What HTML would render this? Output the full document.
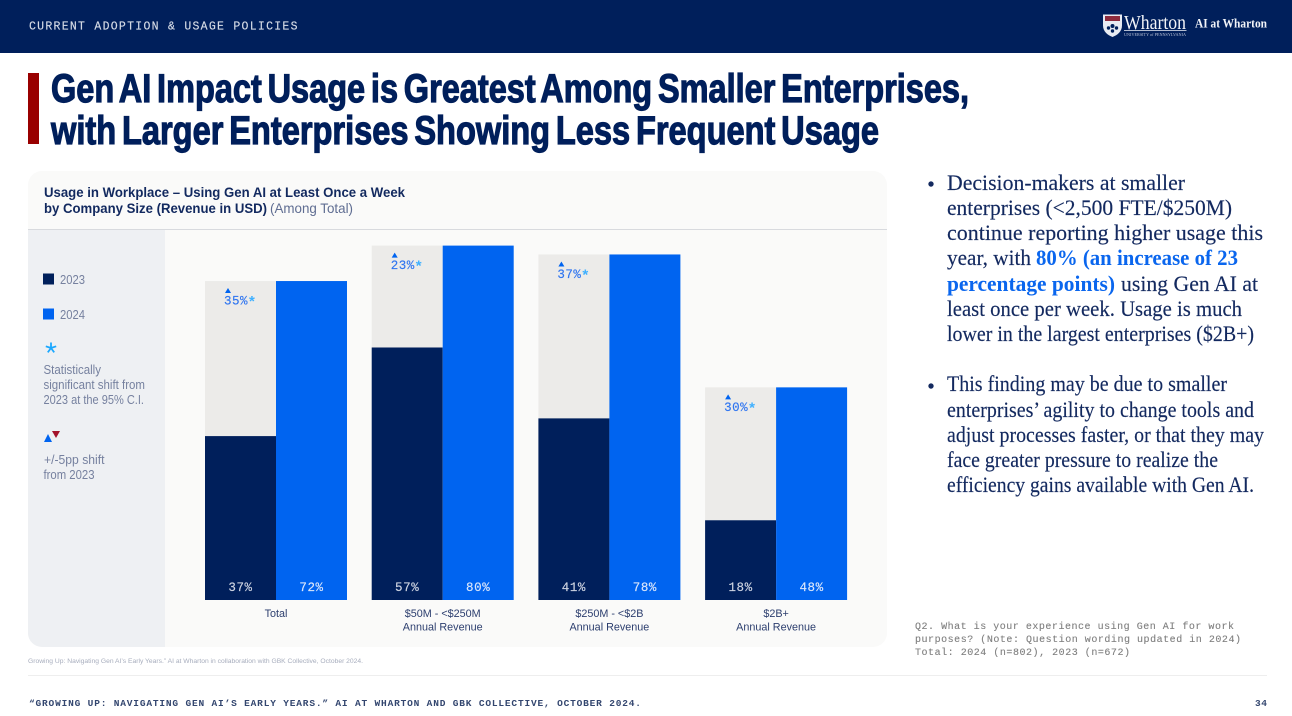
<!DOCTYPE html>
<html lang="en">
<head>
<meta charset="utf-8">
<title>Gen AI Impact Usage</title>
<style>
html,body{margin:0;padding:0;background:#fff;width:1292px;height:716px;overflow:hidden}
svg{display:block}
.mono{font-family:"Liberation Mono",monospace}
.sans{font-family:"Liberation Sans",sans-serif}
.serif{font-family:"Liberation Serif",serif}
.body-copy{font-size:22px;fill:#13295f}
.hl{fill:#0a66ee;font-weight:bold}
.legend-text{font-size:12.5px;fill:#76819f}
</style>
</head>
<body>
<svg id="slide" xmlns="http://www.w3.org/2000/svg" width="1292" height="716" viewBox="0 0 1292 716">
  <rect x="0" y="0" width="1292" height="53" fill="#001f5b"/>
  <text class="mono" x="29" y="29.500" font-size="11.500" fill="#d5dbe6" stroke="#d5dbe6" stroke-width="0.150" textLength="268.500">CURRENT ADOPTION &amp; USAGE POLICIES</text>

  <g>
    <path d="M1103 14.500h19v11c0 6-4.500 9.500-9.500 11.500c-5-2-9.500-5.500-9.500-11.500z" fill="#e8ebf2"/>
    <rect x="1105" y="16" width="15" height="5" fill="#8d2b3d"/>
    <circle cx="1112.500" cy="26" r="2" fill="#00205b"/><circle cx="1108.500" cy="28" r="1.700" fill="#00205b"/><circle cx="1116.500" cy="28" r="1.700" fill="#00205b"/><circle cx="1112.500" cy="31" r="1.700" fill="#00205b"/>
    <text class="serif" x="1124" y="29" font-size="20" fill="#f2f4f8" textLength="62" lengthAdjust="spacingAndGlyphs">Wharton</text>
    <rect x="1124" y="30" width="62.500" height="0.800" fill="#dfe4ee"/>
    <text class="serif" x="1124" y="36" font-size="4.500" fill="#b9c2d6" textLength="62" lengthAdjust="spacingAndGlyphs">UNIVERSITY of PENNSYLVANIA</text>
    <text class="serif" x="1195" y="27.500" font-size="12.500" font-weight="bold" fill="#f2f4f8" textLength="72" lengthAdjust="spacingAndGlyphs">AI at Wharton</text>
  </g>

  <rect x="28" y="73" width="11" height="71" fill="#990000"/>
  <g class="sans" font-size="40" font-weight="bold" fill="#001f5b" stroke="#001f5b" stroke-width="1.200" word-spacing="-4">
    <text x="51" y="102" textLength="918" lengthAdjust="spacingAndGlyphs">Gen AI Impact Usage is Greatest Among Smaller Enterprises,</text>
    <text x="51" y="144" textLength="828" lengthAdjust="spacingAndGlyphs">with Larger Enterprises Showing Less Frequent Usage</text>
  </g>

  <g>
    <rect x="28" y="171" width="859" height="476" rx="14" fill="#fafaf9"/>
    <path d="M28 230H165V647H42a14 14 0 0 1-14-14z" fill="#eef0f3"/>
    <rect x="28" y="229" width="859" height="1" fill="#d8dade"/>
    <g class="sans" font-size="14" font-weight="bold" fill="#12295f">
      <text x="44" y="197" textLength="361" lengthAdjust="spacingAndGlyphs">Usage in Workplace – Using Gen AI at Least Once a Week</text>
      <text x="44" y="213" textLength="223" lengthAdjust="spacingAndGlyphs">by Company Size (Revenue in USD)</text>
      <text x="270" y="213" font-weight="normal" fill="#5f6d92" textLength="83" lengthAdjust="spacingAndGlyphs">(Among Total)</text>
    </g>

    <g class="sans legend-text">
      <rect x="43" y="273.500" width="11" height="11" fill="#00205b"/>
      <text x="60" y="284" textLength="25" lengthAdjust="spacingAndGlyphs" class="legend-text">2023</text>
      <rect x="43" y="308.500" width="11" height="11" fill="#0064f0"/>
      <text x="60" y="319" textLength="25" lengthAdjust="spacingAndGlyphs" class="legend-text">2024</text>
      <path d="M51 348V342.500M51 348L56.200 346.300M51 348L54.200 352.400M51 348L47.800 352.400M51 348L45.800 346.300" stroke="#1ba8ff" stroke-width="1.800" fill="none"/>
      <text class="legend-text" x="43.500" y="374" textLength="57.500" lengthAdjust="spacingAndGlyphs">Statistically</text>
      <text class="legend-text" x="43.500" y="389" textLength="101.500" lengthAdjust="spacingAndGlyphs">significant shift from</text>
      <text class="legend-text" x="43.500" y="404" textLength="100.500" lengthAdjust="spacingAndGlyphs">2023 at the 95% C.I.</text>
      <path d="M44 442l4-8 4 8z" fill="#0064f0"/>
      <path d="M52 431h8l-4 7z" fill="#a3122a"/>
      <text class="legend-text" x="44" y="464" textLength="60.500" lengthAdjust="spacingAndGlyphs">+/-5pp shift</text>
      <text class="legend-text" x="43.500" y="479" textLength="51" lengthAdjust="spacingAndGlyphs">from 2023</text>
    </g>

    <g id="plot"></g>
  </g>

  <text class="sans" x="28" y="663" font-size="6.500" fill="#a7adbd" textLength="335" lengthAdjust="spacingAndGlyphs">Growing Up: Navigating Gen AI’s Early Years.” AI at Wharton in collaboration with GBK Collective, October 2024.</text>

  <g class="serif body-copy" stroke="#13295f" stroke-width="0.150">
    <circle cx="931" cy="184" r="2.600" fill="#13295f"/>
    <text x="947" y="190" textLength="238" lengthAdjust="spacingAndGlyphs">Decision-makers at smaller</text>
    <text x="947" y="215" textLength="285" lengthAdjust="spacingAndGlyphs">enterprises (&lt;2,500 FTE/$250M)</text>
    <text x="947" y="240" textLength="316" lengthAdjust="spacingAndGlyphs">continue reporting higher usage this</text>
    <text x="947" y="265" textLength="84" lengthAdjust="spacingAndGlyphs">year, with</text>
    <text class="hl" x="1036" y="265" stroke="none" textLength="202" lengthAdjust="spacingAndGlyphs">80% (an increase of 23</text>
    <text class="hl" x="947" y="291" stroke="none" textLength="168" lengthAdjust="spacingAndGlyphs">percentage points)</text>
    <text x="1121" y="291" textLength="137" lengthAdjust="spacingAndGlyphs">using Gen AI at</text>
    <text x="947" y="316" textLength="295" lengthAdjust="spacingAndGlyphs">least once per week. Usage is much</text>
    <text x="947" y="341" textLength="307" lengthAdjust="spacingAndGlyphs">lower in the largest enterprises ($2B+)</text>
    <circle cx="931" cy="386" r="2.600" fill="#13295f"/>
    <text x="947" y="391" textLength="280" lengthAdjust="spacingAndGlyphs">This finding may be due to smaller</text>
    <text x="947" y="417" textLength="307" lengthAdjust="spacingAndGlyphs">enterprises’ agility to change tools and</text>
    <text x="947" y="442" textLength="317" lengthAdjust="spacingAndGlyphs">adjust processes faster, or that they may</text>
    <text x="947" y="467" textLength="271" lengthAdjust="spacingAndGlyphs">face greater pressure to realize the</text>
    <text x="947" y="492" textLength="307" lengthAdjust="spacingAndGlyphs">efficiency gains available with Gen AI.</text>
  </g>

  <g class="mono" font-size="10" fill="#808080" stroke="#808080" stroke-width="0.120">
    <text x="915" y="629" textLength="319">Q2. What is your experience using Gen AI for work</text>
    <text x="915" y="642" textLength="326">purposes? (Note: Question wording updated in 2024)</text>
    <text x="915" y="655" textLength="215">Total: 2024 (n=802), 2023 (n=672)</text>
  </g>

  <rect x="28" y="675" width="1239" height="1" fill="#eeeeee"/>
  <text class="mono" x="29" y="706" font-size="9.500" font-weight="bold" fill="#33466f" textLength="612">“GROWING UP: NAVIGATING GEN AI’S EARLY YEARS.” AI AT WHARTON AND GBK COLLECTIVE, OCTOBER 2024.</text>
  <text class="mono" x="1255" y="706" font-size="9.500" font-weight="bold" fill="#33466f" textLength="12">34</text>
</svg>

<script>
const categories = ['Total', '$50M - <$250M', '$250M - <$2B', '$2B+'];
const categorySubLabels = ['', 'Annual Revenue', 'Annual Revenue', 'Annual Revenue'];
const values2023 = [37, 57, 41, 18];
const values2024 = [72, 80, 78, 48];
const changes = [35, 23, 37, 30];

const SVG_NS = 'http://www.w3.org/2000/svg';
const plot = document.getElementById('plot');
const baselineY = 600;
const pixelsPerPoint = 4.43;
const firstCenter = 276;
const groupStep = 166.7;
const barWidth = 71;

function yScale(value) { return baselineY - value * pixelsPerPoint; }
function xCenter(index) { return firstCenter + index * groupStep; }

function make(tag, attrs, text) {
  const el = document.createElementNS(SVG_NS, tag);
  for (const key in attrs) el.setAttribute(key, attrs[key]);
  if (text !== undefined) el.textContent = text;
  return el;
}

categories.forEach(function (category, i) {
  const cx = xCenter(i);
  const left = cx - barWidth;
  const top23 = yScale(values2023[i]);
  const top24 = yScale(values2024[i]);

  const group = make('g', {});
  
  
  plot.appendChild(group);

  const gap = make('rect', { x: left, y: top24, width: barWidth, height: top23 - top24, fill: '#ecebe9' });
  
  
  group.appendChild(gap);

  const bar23 = make('rect', { x: left, y: top23, width: barWidth, height: baselineY - top23, fill: '#001f5b' });
  
  
  group.appendChild(bar23);

  const bar24 = make('rect', { x: cx, y: top24, width: barWidth, height: baselineY - top24, fill: '#0064f0' });
  
  
  group.appendChild(bar24);

  const label23 = make('text', { x: left + barWidth / 2, y: 591, 'text-anchor': 'middle', 'class': 'mono', 'font-size': 12.5, fill: '#cfd5e2', stroke: '#cfd5e2', 'stroke-width': 0.15, 'letter-spacing': 0.6 }, values2023[i] + '%');
  
  
  group.appendChild(label23);

  const label24 = make('text', { x: cx + barWidth / 2, y: 591, 'text-anchor': 'middle', 'class': 'mono', 'font-size': 12.5, fill: '#dbe7fb', stroke: '#dbe7fb', 'stroke-width': 0.15, 'letter-spacing': 0.6 }, values2024[i] + '%');
  
  
  group.appendChild(label24);

  const triX = left + 23;
  const triY = top24 + 7;
  const triangle = make('path', { d: 'M' + (triX - 3) + ' ' + (triY + 5) + 'l3-5 3 5z', fill: '#0064f0' });
  
  
  group.appendChild(triangle);

  const changeLabel = make('text', { x: left + 19, y: top24 + 23.5, 'class': 'mono', 'font-size': 12.5, fill: '#2f75f0', stroke: '#2f75f0', 'stroke-width': 0.15, 'letter-spacing': 0.5 }, changes[i] + '%');
  
  
  group.appendChild(changeLabel);

  const star = make('text', { x: left + 44, y: top24 + 25, 'class': 'sans', 'font-size': 15, 'font-weight': 'bold', fill: '#3fb0ff' }, '*');
  
  
  group.appendChild(star);

  const catLabel = make('text', { x: cx, y: 617, 'text-anchor': 'middle', 'class': 'sans', 'font-size': 10.8, fill: '#2c3e6e' }, category);
  
  
  group.appendChild(catLabel);

  if (categorySubLabels[i]) {
    const subLabel = make('text', { x: cx, y: 630.5, 'text-anchor': 'middle', 'class': 'sans', 'font-size': 10.8, fill: '#2c3e6e' }, categorySubLabels[i]);
    
    
    group.appendChild(subLabel);
  }
});
</script>
</body>
</html>
